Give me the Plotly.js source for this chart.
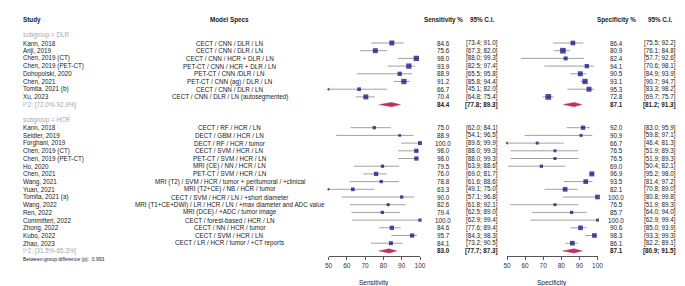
<!DOCTYPE html>
<html>
<head>
<meta charset="utf-8">
<script src="https://cdn.plot.ly/plotly-3.0.1.min.js"></script>
<style>html,body{margin:0;padding:0;background:#fff;}#chart{width:685px;height:286px;}</style>
</head>
<body>
<div id="chart"></div>
<script>
// ---------- DATA ----------
const groupNames = ["DLR", "HCR"];

const studiesDLR = ["Kann, 2018", "Ariji, 2019", "Chen, 2019 (CT)", "Chen, 2019 (PET-CT)", "Dohopolski, 2020", "Chen, 2021", "Tomita, 2021 (b)", "Xu, 2023"];
const modelsDLR = ["CECT / CNN / DLR / LN", "CECT / CNN / DLR / LN", "CECT / CNN / HCR + DLR / LN", "PET-CT / CNN / HCR + DLR / LN", "PET-CT / CNN /DLR / LN", "PET-CT / CNN (ag) / DLR / LN", "CECT / CNN / DLR / LN", "CECT / CNN / DLR / LN (autosegmented)"];
const sensDLR = [84.6, 75.6, 98.0, 93.9, 88.9, 91.2, 66.7, 70.4];
const sensLoDLR = [73.4, 67.3, 88.0, 82.5, 65.5, 85.8, 45.1, 64.8];
const sensHiDLR = [91.0, 82.0, 99.3, 97.4, 95.8, 94.4, 82.0, 75.4];
const specDLR = [86.4, 80.9, 82.4, 94.1, 90.5, 93.1, 95.3, 72.8];
const specLoDLR = [75.5, 76.1, 57.7, 70.6, 84.9, 90.7, 83.3, 69.7];
const specHiDLR = [92.2, 84.8, 92.6, 98.1, 93.9, 94.7, 98.2, 75.7];
const pooledSensDLR = [84.4, 77.8, 89.3];
const pooledSpecDLR = [87.1, 81.2, 91.3];
const i2DLR = "I^2: [72.0%-92.9%]";

const studiesHCR = ["Kann, 2018", "Seidler, 2019", "Forghani, 2019", "Chen, 2019 (CT)", "Chen, 2019 (PET-CT)", "Ho, 2020", "Chen, 2021", "Wang, 2021", "Yuan, 2021", "Tomita, 2021 (a)", "Wang, 2022", "Ren, 2022", "Committeri, 2022", "Zhong, 2022", "Kubo, 2022", "Zhao, 2023"];
const modelsHCR = ["CECT / RF / HCR / LN", "DECT / GBM / HCR / LN", "DECT / RF / HCR / tumor", "CECT / SVM / HCR / LN", "PET-CT / SVM / HCR / LN", "MRI (CE) / NN / HCR / LN", "PET-CT / SVM / HCR / LN", "MRI (T2) / SVM / HCR / tumor + peritumoral / +clinical", "MRI (T2+CE) / NB / HCR / tumor", "CECT / SVM / HCR / LN / +short diameter", "MRI (T1+CE+DWI) / LR / HCR / LN / +max diameter and ADC value", "MRI (DCE) / +ADC / tumor image", "CECT / forest-based / HCR / LN", "CECT / NN / HCR / tumor", "CECT / SVM / HCR / LN", "CECT / LR / HCR / tumor / +CT reports"];
const sensHCR = [75.0, 88.9, 100.0, 98.0, 98.0, 79.5, 76.0, 78.8, 63.3, 90.0, 82.6, 79.4, 100.0, 84.6, 95.7, 84.1];
const sensLoHCR = [62.0, 54.1, 89.6, 88.0, 88.0, 63.9, 69.0, 61.6, 49.1, 57.1, 61.8, 62.5, 62.9, 77.6, 84.3, 73.2];
const sensHiHCR = [84.1, 96.5, 99.9, 99.3, 99.3, 88.6, 81.7, 88.6, 75.0, 96.8, 92.1, 89.0, 99.4, 89.4, 98.3, 90.5];
const specHCR = [92.0, 90.9, 66.7, 76.5, 76.5, 69.0, 96.9, 93.5, 82.1, 100.0, 76.5, 85.7, 100.0, 90.6, 98.3, 86.1];
const specLoHCR = [83.0, 59.8, 46.4, 51.9, 51.9, 50.4, 95.2, 81.4, 70.8, 80.8, 51.9, 64.0, 62.9, 85.0, 93.3, 82.2];
const specHiHCR = [95.9, 97.1, 81.3, 89.3, 89.3, 82.1, 98.0, 97.2, 89.0, 99.8, 89.3, 94.0, 99.4, 93.9, 99.3, 89.1];
const pooledSensHCR = [83.0, 77.7, 87.3];
const pooledSpecHCR = [87.1, 80.9, 91.5];
const i2HCR = "I^2: [31.5%-65.3%]";

const betweenGroupP = "0.993";
const tickVals = [50, 60, 70, 80, 90, 100];

// ---------- STYLE (marker sizes in px, not data) ----------
const sqSensDLR = [5, 5, 5.3, 5.3, 4.3, 5.3, 3.7, 5];
const sqSpecDLR = [4.7, 5.7, 4, 4.3, 5, 5.3, 5, 5.7];
const sqSensHCR = [3.3, 2.7, 4, 4.3, 4.3, 3.3, 4.3, 3.3, 3.7, 3.3, 3, 3.3, 3.3, 4.3, 4.3, 4];
const sqSpecHCR = [4.3, 3, 3, 3, 3, 3.3, 5, 4.7, 4.7, 4.7, 3, 3.3, 3, 4.7, 4.7, 4.7];

const W = 685, H = 286;
const FONT = "Liberation Sans, Arial, sans-serif";
const FS = 6.3;
const TXT = "#1a1a1a", GREY = "#a8a8a8";
const SQ = "#00007f", WHISK = "#a0a0a0", DIAM = "#c0305e";
const AXMIN = 50;

// Row geometry: y pixel = ROW0 + ROWH * row
const ROW0 = 35.3, ROWH = 7.7;
const yTop = -ROW0 / ROWH, yBot = (H - ROW0) / ROWH;

// Column x pixel positions
const colStudy = 21, colModel = 229.5, colSens = 443, colSensCI = 481.5, colSpec = 616, colSpecCI = 659.5;
const sensDom = [328.5 / W, 420 / W], specDom = [507 / W, 597.5 / W];
const axisPos = (H - 256) / H;

const groups = [
  {name: groupNames[0], studies: studiesDLR, models: modelsDLR, sens: sensDLR, sLo: sensLoDLR, sHi: sensHiDLR,
   spec: specDLR, pLo: specLoDLR, pHi: specHiDLR, pSens: pooledSensDLR, pSpec: pooledSpecDLR, i2: i2DLR,
   sqS: sqSensDLR, sqP: sqSpecDLR, start: 0},
  {name: groupNames[1], studies: studiesHCR, models: modelsHCR, sens: sensHCR, sLo: sensLoHCR, sHi: sensHiHCR,
   spec: specHCR, pLo: specLoHCR, pHi: specHiHCR, pSens: pooledSensHCR, pSpec: pooledSpecHCR, i2: i2HCR,
   sqS: sqSensHCR, sqP: sqSpecHCR, start: 11}
];

const traces = [];
const ann = [];
function A(px, row, text, anchor, opts) {
  opts = opts || {};
  ann.push({xref: 'paper', yref: 'y', x: px / W, y: row, text: text, showarrow: false,
    xanchor: anchor, yanchor: 'middle', align: anchor,
    font: {family: FONT, size: opts.size || FS, color: opts.color || TXT}});
}
const f1 = v => v.toFixed(1);
const ci = (lo, hi) => "[" + f1(lo) + "; " + f1(hi) + "]";

// Headers
const hr = -2;
A(colStudy, hr, "<b>Study</b>", 'left');
A(colModel, hr, "<b>Model Specs</b>", 'center');
A(colSens, hr, "<b>Sensitivity %</b>", 'center');
A(colSensCI, hr, "<b>95% C.I.</b>", 'center');
A(colSpec, hr, "<b>Specificity %</b>", 'center');
A(colSpecCI, hr, "<b>95% C.I.</b>", 'center');

function panel(xa, est, lo, hi, sizes, rows, pooled, pr) {
  const lx = [], ly = [], cx = [], cy = [];
  for (let i = 0; i < est.length; i++) {
    const l = Math.max(lo[i], AXMIN);
    lx.push(l, hi[i], null); ly.push(rows[i], rows[i], null);
    if (lo[i] < AXMIN) { cx.push(AXMIN); cy.push(rows[i]); }
  }
  traces.push({type: 'scatter', mode: 'lines', xaxis: xa, yaxis: 'y', x: lx, y: ly,
    line: {color: WHISK, width: 1}, hoverinfo: 'skip', cliponaxis: false});
  if (cx.length) traces.push({type: 'scatter', mode: 'markers', xaxis: xa, yaxis: 'y', x: cx, y: cy,
    marker: {symbol: 'triangle-left', size: 3, color: '#444'}, cliponaxis: false});
  traces.push({type: 'scatter', mode: 'markers', xaxis: xa, yaxis: 'y', x: est, y: rows,
    marker: {symbol: 'square', size: sizes, color: SQ, line: {width: 0}}, cliponaxis: false});
  const h = 0.27;
  traces.push({type: 'scatter', mode: 'lines', xaxis: xa, yaxis: 'y', fill: 'toself',
    x: [pooled[1], pooled[0], pooled[2], pooled[0], pooled[1]],
    y: [pr, pr - h, pr, pr + h, pr],
    fillcolor: DIAM, line: {color: DIAM, width: 0.5}, cliponaxis: false});
}

groups.forEach(g => {
  A(colStudy, g.start, "subgroup = " + g.name, 'left', {color: GREY});
  const rows = g.studies.map((s, i) => g.start + 1 + i);
  g.studies.forEach((s, i) => {
    const r = rows[i];
    A(colStudy, r, s, 'left');
    A(colModel, r, g.models[i], 'center');
    A(colSens, r, f1(g.sens[i]), 'center');
    A(colSensCI, r, ci(g.sLo[i], g.sHi[i]), 'center');
    A(colSpec, r, f1(g.spec[i]), 'center');
    A(colSpecCI, r, ci(g.pLo[i], g.pHi[i]), 'center');
  });
  const pr = g.start + 1 + g.studies.length;
  A(colStudy, pr, g.i2, 'left', {color: GREY});
  A(colSens, pr, "<b>" + f1(g.pSens[0]) + "</b>", 'center');
  A(colSensCI, pr, "<b>" + ci(g.pSens[1], g.pSens[2]) + "</b>", 'center');
  A(colSpec, pr, "<b>" + f1(g.pSpec[0]) + "</b>", 'center');
  A(colSpecCI, pr, "<b>" + ci(g.pSpec[1], g.pSpec[2]) + "</b>", 'center');
  panel('x', g.sens, g.sLo, g.sHi, g.sqS, rows, g.pSens, pr);
  panel('x2', g.spec, g.pLo, g.pHi, g.sqP, rows, g.pSpec, pr);
});

A(colStudy, 29, "Between-group difference (p):  " + betweenGroupP, 'left', {size: 5});

// Axis titles
ann.push({xref: 'paper', yref: 'paper', x: (sensDom[0] + sensDom[1]) / 2, y: (H - 282.5) / H, text: "Sensitivity",
  showarrow: false, xanchor: 'center', yanchor: 'middle', font: {family: FONT, size: 6.5, color: TXT}});
ann.push({xref: 'paper', yref: 'paper', x: (specDom[0] + specDom[1]) / 2, y: (H - 282.5) / H, text: "Specificity",
  showarrow: false, xanchor: 'center', yanchor: 'middle', font: {family: FONT, size: 6.5, color: TXT}});

const xax = dom => ({domain: dom, range: [50, 100], anchor: 'free', position: axisPos, showgrid: false, zeroline: false,
  showline: true, linecolor: '#555', linewidth: 1, ticks: 'outside', ticklen: 3, tickwidth: 1, tickcolor: '#555',
  tickvals: tickVals, ticktext: tickVals.map(String), tickfont: {family: FONT, size: 6.5, color: '#333'}, fixedrange: true});

const layout = {
  width: W, height: H, margin: {l: 0, r: 0, t: 0, b: 0, pad: 0},
  paper_bgcolor: '#fff', plot_bgcolor: 'rgba(0,0,0,0)', showlegend: false,
  xaxis: xax(sensDom),
  xaxis2: xax(specDom),
  yaxis: {domain: [0, 1], range: [yBot, yTop], visible: false, fixedrange: true},
  annotations: ann
};

Plotly.newPlot('chart', traces, layout, {staticPlot: true, displayModeBar: false});
</script>
</body>
</html>
